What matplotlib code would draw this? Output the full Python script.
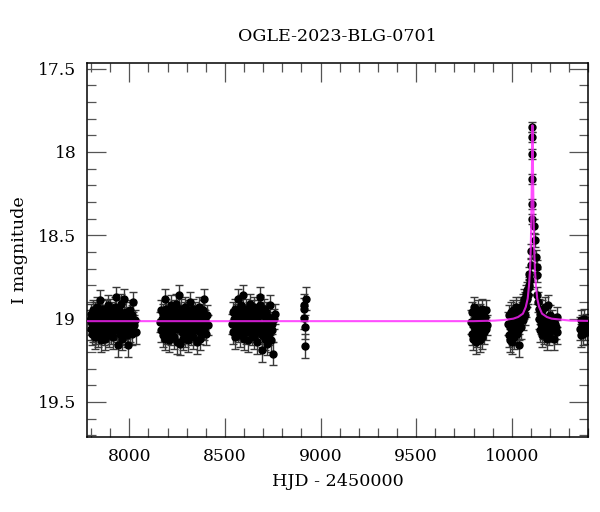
import matplotlib
matplotlib.use("Agg")
import matplotlib.pyplot as plt
from matplotlib.ticker import MultipleLocator

# ---------------- data ----------------
s1_t = [7795, 7797, 7800, 7802, 7805, 7808, 7810, 7813, 7816, 7818, 7821, 7824, 7826, 7829, 7832, 7835,
        7838, 7841, 7846, 7848, 7851, 7853, 7856, 7859, 7862, 7865, 7868, 7872, 7874, 7877, 7880, 7883,
        7886, 7889, 7892, 7895, 7898, 7901, 7904, 7907, 7910, 7913, 7916, 7919, 7922, 7925, 7929, 7931,
        7934, 7938, 7940, 7943, 7946, 7949, 7952, 7955, 7958, 7961, 7964, 7967, 7970, 7974, 7976, 7979,
        7982, 7985, 7988, 7991, 7995, 7998, 8001, 8004, 8008, 8012, 8016, 8021, 8025, 8030, 8035]
s1_mag = [19.01, 19.06, 18.97, 19.09, 19.03, 18.95, 19.07, 19.02, 18.99, 19.11, 18.96, 19.04, 19.08, 18.93, 19.05, 19.00,
          19.10, 18.97, 18.89, 19.04, 19.13, 19.01, 18.94, 19.06, 19.02, 19.09, 18.98, 19.12, 19.03, 18.95, 19.07, 19.00,
          18.92, 19.05, 19.10, 18.97, 19.03, 18.94, 19.08, 19.01, 18.96, 19.06, 19.11, 18.99, 19.04, 18.93, 18.87, 19.02,
          19.07, 19.16, 18.98, 19.05, 18.95, 19.09, 19.01, 18.91, 19.04, 19.12, 18.97, 19.06, 19.00, 18.88, 19.03, 19.08,
          18.96, 19.05, 19.10, 18.99, 19.16, 19.02, 18.95, 19.07, 19.03, 19.09, 18.98, 18.90, 19.04, 19.01, 19.08]
s1_err = [0.06, 0.07, 0.06, 0.07, 0.06, 0.06, 0.07, 0.06, 0.06, 0.07, 0.06, 0.06, 0.07, 0.06, 0.07, 0.06,
          0.07, 0.06, 0.06, 0.06, 0.07, 0.06, 0.06, 0.07, 0.06, 0.07, 0.06, 0.07, 0.06, 0.06, 0.07, 0.06,
          0.06, 0.07, 0.07, 0.06, 0.06, 0.06, 0.07, 0.06, 0.06, 0.07, 0.07, 0.06, 0.06, 0.06, 0.06, 0.06,
          0.07, 0.07, 0.06, 0.07, 0.06, 0.07, 0.06, 0.06, 0.06, 0.07, 0.06, 0.07, 0.06, 0.06, 0.06, 0.07,
          0.06, 0.07, 0.07, 0.06, 0.07, 0.06, 0.06, 0.07, 0.06, 0.07, 0.06, 0.06, 0.06, 0.06, 0.07]

s2_t = [8162, 8165, 8168, 8171, 8174, 8177, 8180, 8184, 8187, 8190, 8193, 8196, 8199, 8202, 8205, 8208,
        8211, 8214, 8217, 8220, 8223, 8226, 8229, 8232, 8235, 8238, 8241, 8244, 8247, 8250, 8253, 8257,
        8260, 8263, 8266, 8269, 8272, 8275, 8278, 8281, 8284, 8287, 8290, 8293, 8296, 8299, 8302, 8305,
        8308, 8311, 8314, 8317, 8320, 8323, 8326, 8329, 8332, 8335, 8338, 8341, 8344, 8348, 8352, 8356,
        8360, 8364, 8367, 8370, 8374, 8378, 8382, 8385, 8388, 8392, 8396, 8400, 8405, 8410]
s2_mag = [19.02, 18.95, 19.07, 19.00, 19.10, 18.97, 19.04, 19.12, 18.88, 19.03, 18.94, 19.08, 19.01, 18.96, 19.06, 19.13,
          18.99, 19.04, 18.92, 19.09, 19.02, 18.97, 19.07, 19.11, 18.95, 19.03, 19.00, 18.91, 19.06, 19.14, 19.02, 18.86,
          18.98, 19.05, 19.15, 18.94, 19.03, 19.08, 18.99, 19.12, 18.96, 19.04, 19.10, 18.93, 19.01, 19.07, 18.97, 19.13,
          19.02, 18.95, 19.06, 18.90, 19.03, 19.09, 18.98, 19.05, 19.11, 18.94, 19.00, 19.07, 18.96, 19.04, 19.14, 18.99,
          19.02, 18.93, 19.08, 19.12, 18.97, 19.05, 19.01, 18.95, 18.88, 19.06, 19.01, 19.09, 18.98, 19.04]
s2_err = [0.06, 0.06, 0.07, 0.06, 0.07, 0.06, 0.06, 0.07, 0.06, 0.06, 0.06, 0.07, 0.06, 0.06, 0.07, 0.07,
          0.06, 0.06, 0.06, 0.07, 0.06, 0.06, 0.07, 0.07, 0.06, 0.06, 0.06, 0.06, 0.07, 0.07, 0.06, 0.06,
          0.06, 0.07, 0.07, 0.06, 0.06, 0.07, 0.06, 0.07, 0.06, 0.06, 0.07, 0.06, 0.06, 0.07, 0.06, 0.07,
          0.06, 0.06, 0.07, 0.06, 0.06, 0.07, 0.06, 0.07, 0.07, 0.06, 0.06, 0.07, 0.06, 0.06, 0.07, 0.06,
          0.06, 0.06, 0.07, 0.07, 0.06, 0.07, 0.06, 0.06, 0.06, 0.07, 0.06, 0.07, 0.06, 0.06]

s3_t = [8538, 8541, 8544, 8547, 8550, 8553, 8556, 8559, 8562, 8566, 8569, 8572, 8575, 8578, 8581, 8584,
        8587, 8590, 8594, 8597, 8600, 8603, 8606, 8609, 8612, 8615, 8618, 8621, 8624, 8627, 8630, 8633,
        8636, 8639, 8642, 8645, 8648, 8651, 8654, 8657, 8660, 8663, 8666, 8669, 8672, 8675, 8678, 8681,
        8685, 8688, 8691, 8694, 8697, 8700, 8703, 8706, 8709, 8712, 8715, 8718, 8721, 8724, 8727, 8730,
        8733, 8737, 8740, 8744, 8747, 8751, 8755, 8760]
s3_mag = [19.03, 18.96, 19.08, 19.00, 19.11, 18.94, 19.05, 19.02, 18.97, 18.88, 19.07, 19.01, 18.95, 19.10, 19.03, 18.92,
          19.06, 18.99, 18.86, 19.04, 19.12, 18.97, 19.02, 19.08, 18.94, 19.05, 19.00, 19.13, 18.96, 19.03, 18.91, 19.07,
          19.01, 18.95, 19.09, 19.04, 18.98, 19.11, 18.93, 19.02, 19.06, 18.97, 19.14, 19.00, 18.95, 19.08, 19.03, 18.92,
          18.87, 19.05, 19.10, 19.19, 18.98, 19.04, 18.94, 19.07, 19.12, 19.01, 18.96, 19.06, 19.15, 19.02, 18.99, 19.09,
          19.04, 18.92, 19.13, 19.03, 19.07, 19.21, 19.00, 18.97]
s3_err = [0.06, 0.06, 0.07, 0.06, 0.07, 0.06, 0.07, 0.06, 0.06, 0.06, 0.07, 0.06, 0.06, 0.07, 0.06, 0.06,
          0.07, 0.06, 0.06, 0.06, 0.07, 0.06, 0.06, 0.07, 0.06, 0.07, 0.06, 0.07, 0.06, 0.06, 0.06, 0.07,
          0.06, 0.06, 0.07, 0.06, 0.06, 0.07, 0.06, 0.06, 0.07, 0.06, 0.07, 0.06, 0.06, 0.07, 0.06, 0.06,
          0.06, 0.07, 0.07, 0.07, 0.06, 0.06, 0.06, 0.07, 0.07, 0.06, 0.06, 0.07, 0.07, 0.06, 0.06, 0.07,
          0.06, 0.06, 0.07, 0.06, 0.07, 0.07, 0.06, 0.06]

s4_t = [8911, 8913, 8915, 8918, 8920, 8925]
s4_mag = [18.995, 18.92, 18.945, 19.05, 19.165, 18.88]
s4_err = [0.07, 0.07, 0.07, 0.07, 0.07, 0.07]

s5_t = [9786, 9790, 9793, 9796, 9799, 9802, 9805, 9808, 9811, 9814, 9817, 9820, 9823, 9826, 9829, 9832,
        9835, 9838, 9842, 9846, 9850, 9854, 9858, 9863, 9867, 9871]
s5_mag = [19.02, 18.96, 19.09, 19.04, 19.12, 18.93, 19.06, 19.00, 19.14, 18.98, 19.03, 19.10, 18.95, 19.07, 19.01, 19.13,
          18.97, 19.05, 19.11, 18.94, 19.03, 19.08, 18.99, 19.06, 18.95, 19.04]
s5_err = [0.07, 0.06, 0.07, 0.06, 0.07, 0.06, 0.07, 0.06, 0.07, 0.06, 0.06, 0.07, 0.06, 0.07, 0.06, 0.07,
          0.06, 0.07, 0.07, 0.06, 0.06, 0.07, 0.06, 0.07, 0.06, 0.06]

s6_t = [9980, 9984, 9987, 9990, 9993, 9996, 9999, 10002, 10005, 10008, 10011, 10014, 10017, 10020, 10023, 10026,
        10029, 10032, 10035, 10038, 10041, 10044, 10047, 10050, 10053, 10056, 10059, 10062, 10065, 10068, 10071, 10073,
        10076, 10079, 10082, 10085, 10088, 10091, 10094, 10091, 10100, 10100, 10103, 10103, 10105, 10108, 10108, 10108,
        10117, 10120, 10126, 10131, 10134, 10131,
        10138, 10141, 10144, 10147, 10150, 10153, 10156, 10159, 10162, 10165, 10168, 10172, 10176, 10180, 10184, 10187,
        10191, 10195, 10200, 10205, 10210, 10216, 10220, 10225, 10229, 10234, 10238]
s6_mag = [19.03, 19.10, 18.98, 19.13, 19.05, 18.96, 19.08, 19.14, 19.01, 18.95, 19.07, 19.11, 18.99, 19.04, 18.93, 19.09,
          19.02, 18.97, 19.06, 19.16, 18.95, 19.00, 18.93, 19.05, 18.96, 18.91, 19.01, 18.94, 18.88, 18.98, 18.90, 18.85,
          18.93, 18.88, 18.83, 18.86, 18.80, 18.73, 18.77, 18.81, 18.595, 18.68, 18.31, 18.40, 18.16, 17.85, 17.91, 18.01,
          18.445, 18.53, 18.63, 18.69, 18.74, 18.86,
          18.90, 19.00, 18.94, 19.07, 18.97, 19.03, 19.10, 18.95, 19.05, 18.99, 19.08, 19.01, 18.93, 19.06, 19.12, 18.92,
          19.03, 19.09, 18.98, 19.05, 19.01, 19.07, 19.12, 19.03, 19.05, 18.99, 19.08]
s6_err = [0.07, 0.07, 0.06, 0.07, 0.07, 0.06, 0.07, 0.07, 0.06, 0.06, 0.07, 0.07, 0.06, 0.06, 0.06, 0.07,
          0.06, 0.06, 0.07, 0.07, 0.06, 0.06, 0.06, 0.07, 0.06, 0.06, 0.06, 0.06, 0.06, 0.06, 0.06, 0.05,
          0.06, 0.05, 0.05, 0.05, 0.05, 0.04, 0.05, 0.05, 0.04, 0.04, 0.03, 0.03, 0.03, 0.03, 0.03, 0.03,
          0.04, 0.04, 0.04, 0.04, 0.04, 0.05,
          0.06, 0.06, 0.06, 0.07, 0.06, 0.06, 0.07, 0.06, 0.07, 0.06, 0.07, 0.06, 0.06, 0.07, 0.07, 0.06,
          0.06, 0.07, 0.06, 0.07, 0.06, 0.07, 0.07, 0.06, 0.07, 0.06, 0.07]

s7_t = [10355, 10360, 10364, 10368, 10372, 10378, 10383, 10388, 10394]
s7_mag = [19.06, 19.10, 19.01, 19.04, 19.09, 19.00, 19.06, 19.03, 19.08]
s7_err = [0.07, 0.07, 0.06, 0.06, 0.07, 0.06, 0.07, 0.06, 0.07]

model_t = [7700, 9800, 9908, 9958, 10008, 10033, 10058, 10073, 10083, 10090, 10095, 10099, 10102,
           10104, 10106, 10108, 10110, 10112, 10114, 10117, 10121, 10126, 10133, 10143, 10158,
           10183, 10208, 10308, 10500]
model_mag = [19.015, 19.015, 19.012, 19.008, 19.0, 18.99, 18.97, 18.93, 18.88, 18.80, 18.71, 18.58, 18.40,
             18.22, 18.02, 17.84, 18.02, 18.22, 18.40, 18.58, 18.71, 18.80, 18.88, 18.93, 18.97,
             18.99, 19.0, 19.012, 19.015]

title = "OGLE-2023-BLG-0701"
xlabel = "HJD - 2450000"
ylabel = "I magnitude"

# ---------------- figure ----------------
plt.rcParams['font.family'] = ['DejaVu Serif']
fig = plt.figure(figsize=(6.0, 5.12), dpi=100)
ax = fig.add_axes([0.1455, 0.1465, 0.835, 0.7305])

t_all = s1_t + s2_t + s3_t + s4_t + s5_t + s6_t + s7_t
m_all = s1_mag + s2_mag + s3_mag + s4_mag + s5_mag + s6_mag + s7_mag
e_all = s1_err + s2_err + s3_err + s4_err + s5_err + s6_err + s7_err

ax.errorbar(t_all, m_all, yerr=e_all, fmt='o', color='black', ecolor='#3a3a3a',
            elinewidth=1.0, capsize=2.6, capthick=1.0, markersize=5.0, zorder=2)
ax.plot(model_t, model_mag, color='#ff22ff', lw=1.5, alpha=0.8, zorder=3)

ax.set_xlim(7780, 10400)
ax.set_ylim(19.71, 17.466)

ax.xaxis.set_major_locator(MultipleLocator(500))
ax.xaxis.set_minor_locator(MultipleLocator(100))
ax.yaxis.set_minor_locator(MultipleLocator(0.1))
ax.set_yticks([17.5, 18.0, 18.5, 19.0, 19.5])
ax.set_yticklabels(['17.5', '18', '18.5', '19', '19.5'])

ax.tick_params(which='both', direction='in', top=True, right=True, color='#555555', labelsize=12.3)
ax.tick_params(which='major', length=14, width=0.9, pad=8)
ax.tick_params(which='minor', length=6.5, width=0.9)
for s in ax.spines.values():
    s.set_linewidth(1.1)

ax.set_title(title, fontsize=12.6, pad=16)
ax.set_xlabel(xlabel, fontsize=12.6, labelpad=6)
ax.set_ylabel(ylabel, fontsize=12.6, labelpad=7)

fig.savefig("out.png", dpi=100)
